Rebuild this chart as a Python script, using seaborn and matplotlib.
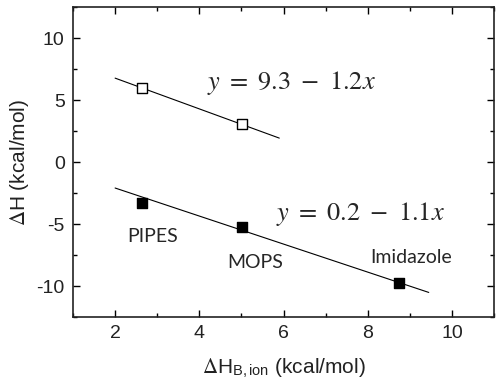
import numpy as np
import pandas as pd
import matplotlib
matplotlib.use("Agg")
import matplotlib.pyplot as plt
import seaborn as sns
from matplotlib.ticker import MultipleLocator

# --- data ---
buffers = ['PIPES', 'MOPS', 'Imidazole']
dh_ion = [2.64, 5.02, 8.74]          # x, kcal/mol
dh_filled = [-3.3, -5.24, -9.76]     # filled squares
dh_open = [5.97, 3.06]               # open squares (PIPES, MOPS)

# fitted lines as drawn: intercept, slope, x range
fit_open = (9.25, -1.24)
fit_open_x = [2.0, 5.9]
fit_filled = (0.17, -1.13)
fit_filled_x = [2.0, 9.45]

eq_open = r'$y\ =\ 9.3\ -\ 1.2x$'
eq_filled = r'$y\ =\ 0.2\ -\ 1.1x$'

df = pd.DataFrame({'buffer': buffers, 'x': dh_ion, 'y': dh_filled})
df_open = pd.DataFrame({'x': dh_ion[:2], 'y': dh_open})

sns.set_style('ticks')
plt.rcParams['font.family'] = ['Liberation Sans', 'DejaVu Sans']
plt.rcParams['mathtext.fontset'] = 'stix'
plt.rcParams['axes.unicode_minus'] = False

fig = plt.figure(figsize=(5.0, 3.92), dpi=100)
ax = fig.add_axes([0.146, 0.191, 0.842, 0.791])

# fit lines
for (a, b), xs in [(fit_open, fit_open_x), (fit_filled, fit_filled_x)]:
    xs = np.array(xs)
    sns.lineplot(x=xs, y=a + b * xs, ax=ax, color='black', lw=0.8)

sns.scatterplot(data=df_open, x='x', y='y', ax=ax, marker='s', s=55,
                facecolor='white', edgecolor='black', linewidth=1.0, zorder=3)
sns.scatterplot(data=df, x='x', y='y', ax=ax, marker='s', s=55,
                color='black', edgecolor='black', linewidth=1.0, zorder=3)

# buffer labels
label_pos = [(2.88, -5.97), (5.33, -8.1), (9.02, -7.7)]
for name, (lx, ly) in zip(buffers, label_pos):
    ax.text(lx, ly, name, ha='center', va='center', fontsize=14,
            family=['Lato', 'DejaVu Sans'])

ax.text(6.2, 6.37, eq_open, ha='center', va='center', fontsize=19)
ax.text(7.83, -4.2, eq_filled, ha='center', va='center', fontsize=19)

ax.set_xlim(1, 11)
ax.set_ylim(-12.5, 12.5)
ax.xaxis.set_major_locator(MultipleLocator(2))
ax.xaxis.set_minor_locator(MultipleLocator(1))
ax.yaxis.set_major_locator(MultipleLocator(5))
ax.yaxis.set_minor_locator(MultipleLocator(2.5))
ax.tick_params(which='both', direction='in', top=True, right=True,
               labelsize=14, width=1.0, color='black', labelcolor='#222222')
ax.tick_params(which='major', length=5, pad=6)
ax.tick_params(which='minor', length=3)
for sp in ax.spines.values():
    sp.set_linewidth(1.2)
    sp.set_color('#222222')

ax.set_xlabel(r'$\Delta$H$_{\mathregular{B,ion}}$ (kcal/mol)', fontsize=15,
              labelpad=10, color='#222222')
ax.set_ylabel(r'$\Delta$H (kcal/mol)', fontsize=15, labelpad=4, color='#222222')

fig.savefig('out.png', dpi=100)
